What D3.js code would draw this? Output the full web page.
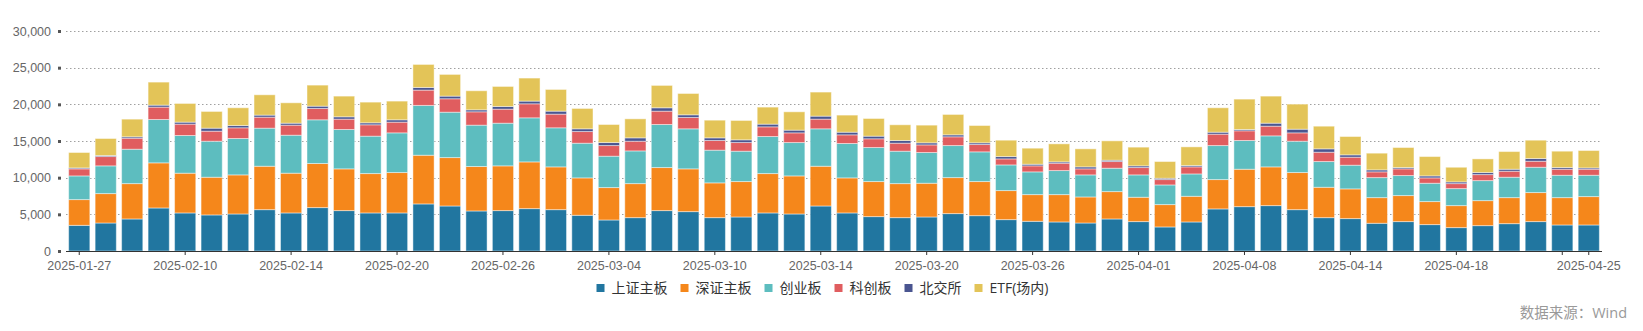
<!DOCTYPE html>
<html><head><meta charset="utf-8">
<script src="https://cdn.jsdelivr.net/npm/d3@7"></script>
<style>
html,body{margin:0;padding:0;background:#fff;}
svg{display:block;font-family:"Open Sans","Noto Sans CJK SC",sans-serif;}
</style></head>
<body><svg id="c" width="1643" height="331"></svg>
<script>
const dates = ["2025-01-27","2025-02-05","2025-02-06","2025-02-07","2025-02-10","2025-02-11","2025-02-12","2025-02-13","2025-02-14","2025-02-17","2025-02-18","2025-02-19","2025-02-20","2025-02-21","2025-02-24","2025-02-25","2025-02-26","2025-02-27","2025-02-28","2025-03-03","2025-03-04","2025-03-05","2025-03-06","2025-03-07","2025-03-10","2025-03-11","2025-03-12","2025-03-13","2025-03-14","2025-03-17","2025-03-18","2025-03-19","2025-03-20","2025-03-21","2025-03-24","2025-03-25","2025-03-26","2025-03-27","2025-03-28","2025-03-31","2025-04-01","2025-04-02","2025-04-03","2025-04-07","2025-04-08","2025-04-09","2025-04-10","2025-04-11","2025-04-14","2025-04-15","2025-04-16","2025-04-17","2025-04-18","2025-04-21","2025-04-22","2025-04-23","2025-04-24","2025-04-25"];
const seriesNames = ["上证主板","深证主板","创业板","科创板","北交所","ETF(场内)"];
const shMain = [3500,3820,4370,5870,5190,4920,5050,5640,5190,5920,5510,5190,5190,6420,6140,5460,5510,5780,5640,4870,4230,4550,5510,5370,4550,4640,5190,5050,6140,5190,4690,4550,4640,5100,4820,4280,4050,3960,3820,4370,4010,3280,3960,5740,6050,6190,5640,4550,4420,3780,4010,3600,3190,3460,3730,4010,3550,3550];
const szMain = [3510,4010,4820,6150,5420,5140,5330,5920,5420,6010,5690,5370,5510,6640,6600,6060,6100,6370,5830,5100,4420,4640,5870,5830,4740,4830,5370,5190,5420,4780,4780,4640,4600,4910,4650,3960,3640,3730,3550,3730,3320,3050,3500,4000,5100,5280,5060,4140,4050,3500,3550,3140,3000,3410,3550,3960,3730,3870];
const chinext = [3230,3780,4690,5910,5140,4910,4960,5190,5180,5960,5370,5100,5410,6790,6190,5640,5820,6010,5330,4730,4280,4460,5870,5460,4460,4140,5050,4550,5100,4690,4640,4420,4190,4370,4050,3500,3100,3280,3010,3190,3050,2680,3050,4640,3920,4230,4270,3510,3230,2730,2730,2500,2320,2730,2780,3450,3050,2910];
const star = [960,1270,1500,1690,1550,1370,1460,1500,1370,1550,1410,1550,1460,2090,1830,1820,1910,1910,1860,1590,1450,1320,1820,1550,1320,1180,1320,1320,1320,1180,1190,1090,1040,1190,1000,820,820,1000,820,910,1000,730,960,1550,1320,1320,1140,1270,1090,780,910,730,680,820,820,820,820,820];
const bse = [130,140,190,270,270,410,310,280,270,310,320,270,320,360,360,270,370,370,410,370,410,460,460,360,360,370,370,370,410,360,360,370,280,270,230,320,220,180,270,180,230,180,180,270,180,410,500,460,320,270,180,270,230,280,270,370,230,180];
const etf = [2100,2320,2410,3140,2550,2280,2420,2770,2780,2870,2820,2820,2550,3140,2960,2600,2730,3140,2960,2780,2460,2590,3050,2910,2410,2640,2320,2500,3280,2330,2410,2140,2410,2780,2360,2230,2190,2460,2460,2640,2550,2280,2550,3330,4140,3690,3420,3090,2500,2280,2730,2640,2000,1860,2410,2500,2230,2370];
const yTicks = [0,5000,10000,15000,20000,25000,30000];
const colors = ["#2176a0","#f5871b","#5dbdbf","#e05d5f","#4a5590","#e3c458"];

const seriesValues = [shMain, szMain, chinext, star, bse, etf];
const table = dates.map((d,i)=>{const o={date:d}; seriesNames.forEach((n,k)=>o[n]=seriesValues[k][i]); return o;});

const svg = d3.select("#c");
const mLeft = 66, mRight = 1602, mTop = 31, mBottom = 251;
const x = d3.scaleBand().domain(dates).range([mLeft,mRight]).paddingInner(0.2).paddingOuter(0.1);
const y = d3.scaleLinear().domain([0,30000]).range([mBottom,mTop]);

// grid
svg.append("g").selectAll("line").data(yTicks.filter(t=>t>0)).join("line")
  .attr("x1",mLeft).attr("x2",mRight)
  .attr("y1",d=>Math.round(y(d))+0.5).attr("y2",d=>Math.round(y(d))+0.5)
  .attr("stroke","#a0a0a0").attr("stroke-width",1).attr("stroke-dasharray","1.5,2.5");

// y axis labels and square ticks
const yAxis = d3.axisLeft(y).tickValues(yTicks).tickSize(0).tickPadding(15).tickFormat(d3.format(","));
const gy = svg.append("g").attr("transform",`translate(${mLeft},0)`).call(yAxis);
gy.select(".domain").remove();
gy.selectAll("text").attr("fill","#666").attr("font-size","12.5px");
gy.selectAll(".tick").append("rect").attr("x",-8).attr("y",-1.5).attr("width",3).attr("height",3).attr("fill","#555");

// bars
const stack = d3.stack().keys(seriesNames)(table);
svg.append("g").selectAll("g").data(stack).join("g")
  .attr("fill",(d,i)=>colors[i])
  .selectAll("rect").data(d=>d).join("rect")
  .attr("x",d=>x(d.data.date)).attr("width",x.bandwidth())
  .attr("y",d=>y(d[1])).attr("height",d=>Math.max(0,y(d[0])-y(d[1])))
  .attr("stroke","#fff").attr("stroke-opacity",0.45).attr("stroke-width",1);

// x axis
const tickIdx = dates.map((d,i)=>i).filter(i=>i%4===0 || i===dates.length-1);
const tickDates = tickIdx.map(i=>dates[i]);
const xAxis = d3.axisBottom(x).tickValues(tickDates).tickSizeOuter(0).tickSize(4).tickPadding(6)
  .tickFormat(d=> d==="2025-04-24" ? "" : d);
const gx = svg.append("g").attr("transform",`translate(0,${mBottom})`).call(xAxis);
gx.select(".domain").attr("stroke","#333").attr("d",`M${mLeft},0.5H${mRight}`);
gx.selectAll(".tick line").attr("stroke","#333");
gx.selectAll("text").attr("fill","#666").attr("font-size","12.5px");

// legend
const lg = svg.append("g");
const items = lg.selectAll("g").data(seriesNames).join("g");
items.append("rect").attr("width",8).attr("height",8).attr("y",-4).attr("fill",(d,i)=>colors[i]);
items.append("text").attr("x",15).attr("dy","0.35em").attr("font-size","14px").attr("fill","#333").text(d=>d);
const gap = 13;
let pos = 0; const offs=[];
items.each(function(){ offs.push(pos); pos += 15 + this.querySelector("text").getComputedTextLength() + gap; });
const total = pos - gap;
const startX = 822.5 - total/2;
items.attr("transform",(d,i)=>`translate(${startX+offs[i]},288)`);

// source
svg.append("text").attr("x",1627).attr("y",313).attr("dy","0.35em").attr("text-anchor","end")
  .attr("font-size","14.5px").attr("fill","#999").text("数据来源：Wind");
</script></body></html>
